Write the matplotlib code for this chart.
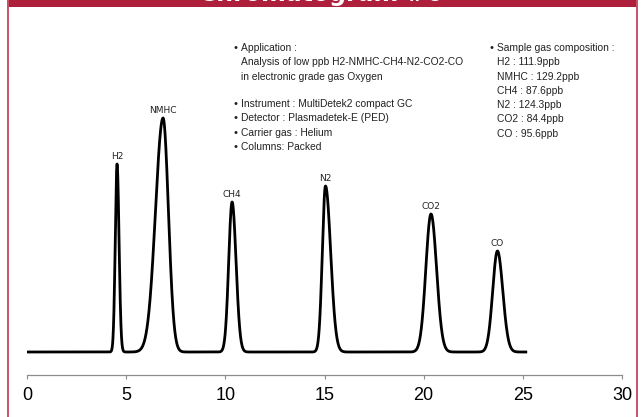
import numpy as np
import matplotlib
matplotlib.use("Agg")
import matplotlib.pyplot as plt
from matplotlib.patches import Rectangle
from matplotlib.lines import Line2D

# ---- data ----
peak_names = ["H2", "NMHC", "CH4", "N2", "CO2", "CO"]
retention = [4.54, 6.86, 10.34, 15.05, 20.37, 23.72]     # min
heights = [188, 234, 150, 166, 138, 101]                  # signal (a.u.)
sigma_left = [0.09, 0.38, 0.17, 0.16, 0.26, 0.24]
sigma_right = [0.10, 0.27, 0.20, 0.26, 0.28, 0.27]
run_end = 25.15
x_ticks = [0, 5, 10, 15, 20, 25, 30]

app_lines = ["Application :",
             "Analysis of low ppb H2-NMHC-CH4-N2-CO2-CO",
             "in electronic grade gas Oxygen"]
info_lines = ["Instrument : MultiDetek2 compact GC",
              "Detector : Plasmadetek-E (PED)",
              "Carrier gas : Helium",
              "Columns: Packed"]
comp_lines = ["Sample gas composition :", "H2 : 111.9ppb", "NMHC : 129.2ppb",
              "CH4 : 87.6ppb", "N2 : 124.3ppb", "CO2 : 84.4ppb", "CO : 95.6ppb"]
title = "Chromatogram #6"

# ---- build trace from peak parameters ----
t = np.linspace(0, run_end, 4000)
signal = np.zeros_like(t)
for rt, h, sl, sr in zip(retention, heights, sigma_left, sigma_right):
    s = np.where(t < rt, sl, sr)
    signal += h * np.exp(-0.5 * ((t - rt) / s) ** 2)

W, H = 642, 417
fig = plt.figure(figsize=(W / 100, H / 100), dpi=100)
fig.patch.set_facecolor("white")

ax = fig.add_axes([27 / W, (H - 375) / H, 595 / W, 345 / H])
ax.plot(t, signal, color="black", lw=2.0, solid_joinstyle="round")
ax.set_xlim(0, 30)
ax.set_ylim(-23, 322)
ax.set_yticks([])
for side in ["left", "right", "top"]:
    ax.spines[side].set_visible(False)
ax.spines["bottom"].set_color("#8c8c8c")
ax.spines["bottom"].set_linewidth(0.9)
ax.set_xticks(x_ticks)
ax.tick_params(axis="x", direction="out", length=3, color="#8c8c8c", width=0.8,
               pad=6, labelsize=13)
for lab in ax.get_xticklabels():
    lab.set_fontfamily(["Liberation Sans", "DejaVu Sans"])

# peak labels
for name, rt, h in zip(peak_names, retention, heights):
    ax.annotate(name, xy=(rt, h), xytext=(0, 2.5), textcoords="offset points",
                ha="center", va="bottom", fontsize=6.5,
                family=["DejaVu Sans"], color="#222222")

# ---- info text blocks (figure pixel positions) ----
txt_font = ["Liberation Sans", "DejaVu Sans"]
fs = 7.4

def fy(py):
    return 1 - py / H

def block(lines, x_bullet, x_text, y0, step, bullets=None):
    for i, line in enumerate(lines):
        y = y0 + i * step
        if bullets is None or bullets[i]:
            fig.text(x_bullet / W, fy(y), "\u2022", fontsize=fs, va="center",
                     ha="left", family=["DejaVu Sans"], color="#222222")
        fig.text(x_text / W, fy(y), line, fontsize=fs, va="center", ha="left",
                 family=txt_font, color="#222222")

block(app_lines, 233, 241, 48, 14.3, bullets=[True, False, False])
block(info_lines, 233, 241, 104, 14.3)
block(comp_lines, 488, 497, 48, 14.3, bullets=[True] + [False] * 6)

# ---- frame decorations ----
red = "#ad1f3a"
fig.add_artist(Rectangle((7 / W, 1 - 7 / H), 630 / W, 7 / H,
                         transform=fig.transFigure, facecolor=red,
                         edgecolor="none", zorder=5))
for xpx in (7.5, 636.5):
    fig.add_artist(Line2D([xpx / W, xpx / W], [0, 1], transform=fig.transFigure,
                          color="#c75267", lw=1.4, zorder=5))
fig.text(0.5, 1 - 1.2 / H, title, ha="center", va="baseline", color="white",
         fontsize=17, fontweight="bold", family=["DejaVu Sans"], zorder=6)

fig.savefig("out.png", dpi=100)
